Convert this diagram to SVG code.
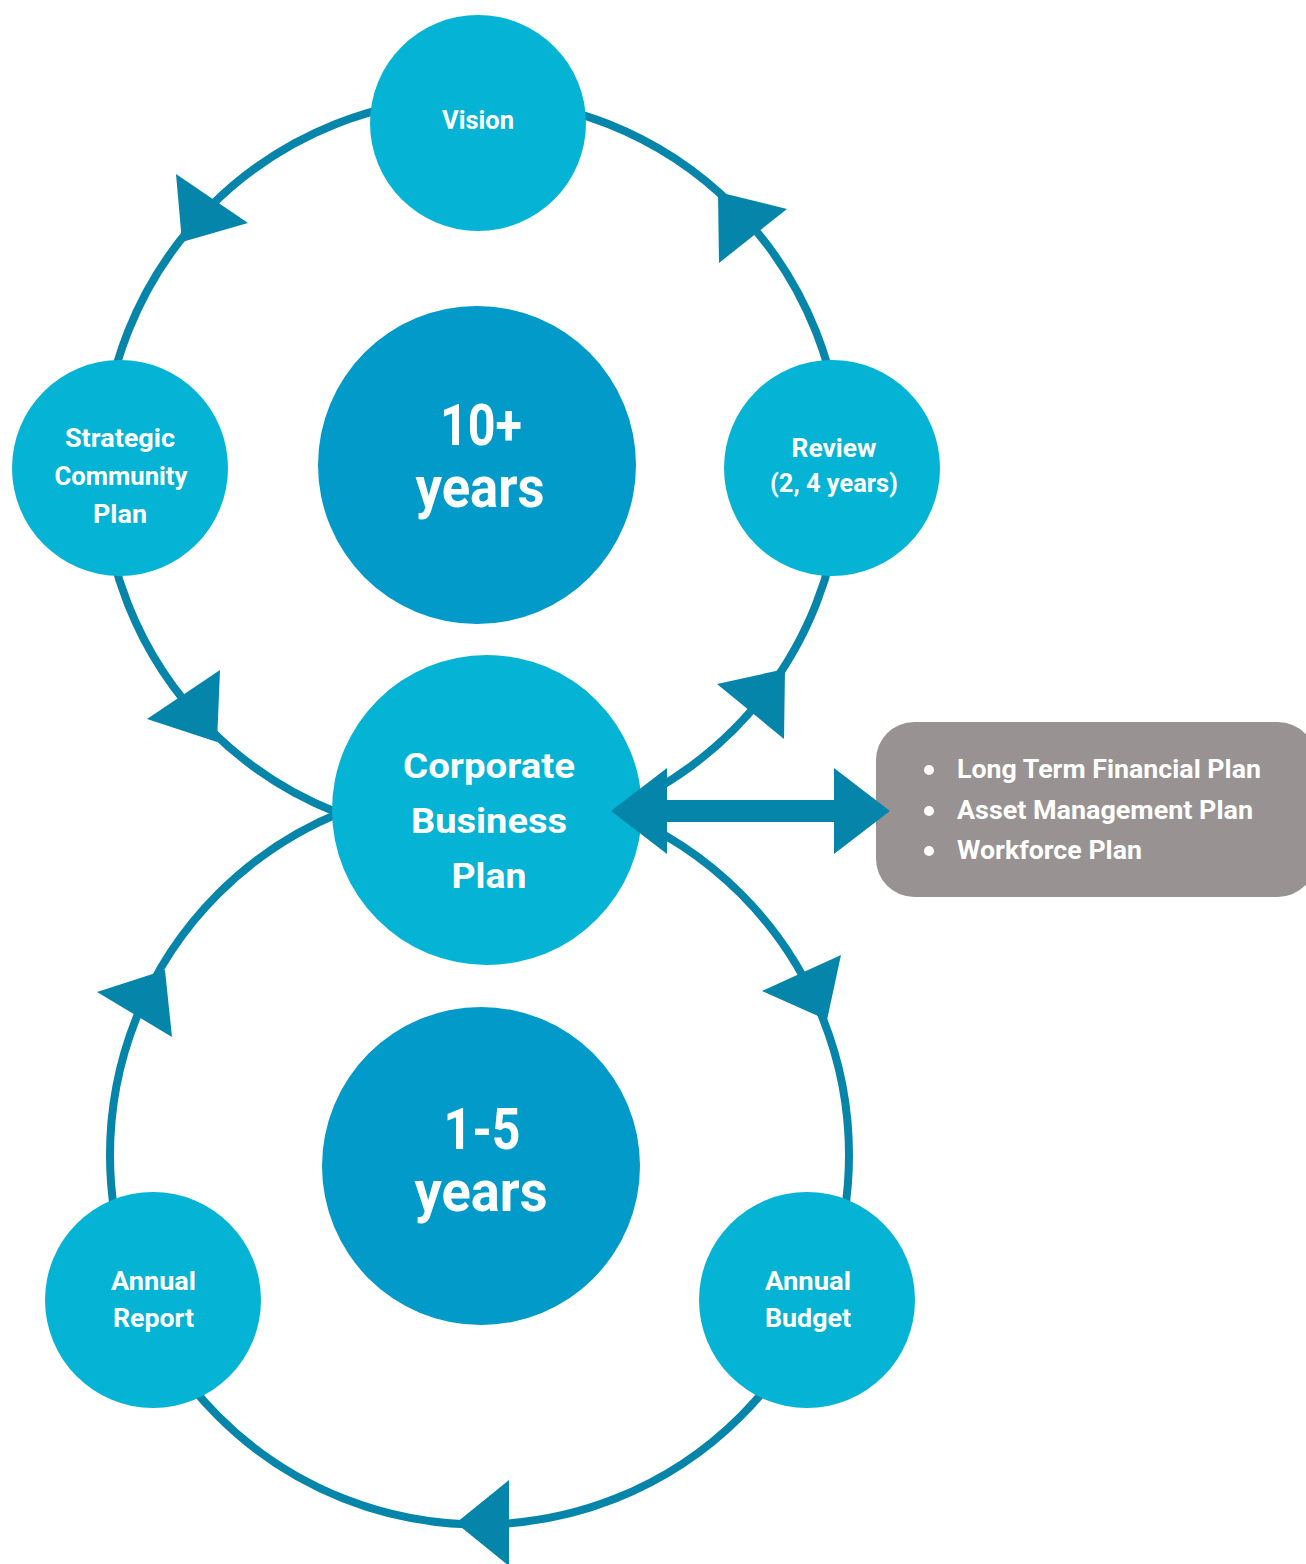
<svg xmlns="http://www.w3.org/2000/svg" width="1306" height="1564" viewBox="0 0 1306 1564">
<style>
.ring{fill:none;stroke:#0685AA;stroke-width:8}
.ah{fill:#0685AA}
.node{fill:#05B4D5}
.big{fill:#029AC9}
.box{fill:#989392}
.t{font-family:Roboto,"Liberation Sans",sans-serif;font-weight:700;fill:#fff;text-anchor:middle}
.s{font-size:25px}
.m{font-size:35px}
.l{font-size:58px}
.b{font-family:Roboto,"Liberation Sans",sans-serif;font-weight:700;fill:#fff;font-size:25px}
</style>
<rect width="1306" height="1564" fill="#fff"/>
<g id="connectors">
  <circle class="ring" cx="472" cy="468" r="370"/>
  <circle class="ring" cx="479.5" cy="1155" r="369.5"/>
  <polygon class="ah" points="176,174 248,223 182,242"/>
  <polygon class="ah" points="718,192 787,209 719,263"/>
  <polygon class="ah" points="220,670 147,719 217,742"/>
  <polygon class="ah" points="717,684 785,669 784,739"/>
  <polygon class="ah" points="97,992 165,970 172,1037"/>
  <polygon class="ah" points="841,955 762,991 827,1020"/>
  <polygon class="ah" points="509,1480 456,1523 509,1566"/>
</g>
<g id="vision">
  <circle class="node" cx="478" cy="123" r="108"/>
  <text class="t s" x="478" y="129" textLength="72" lengthAdjust="spacingAndGlyphs">Vision</text>
</g>
<g id="scp">
  <circle class="node" cx="120" cy="468" r="108"/>
  <text class="t s" x="120" y="447" textLength="110" lengthAdjust="spacingAndGlyphs">Strategic</text>
  <text class="t s" x="121" y="485" textLength="133" lengthAdjust="spacingAndGlyphs">Community</text>
  <text class="t s" x="120" y="523" textLength="54" lengthAdjust="spacingAndGlyphs">Plan</text>
</g>
<g id="review">
  <circle class="node" cx="832" cy="468" r="108"/>
  <text class="t s" x="834" y="457" textLength="85" lengthAdjust="spacingAndGlyphs">Review</text>
  <text class="t s" x="834" y="492" textLength="128" lengthAdjust="spacingAndGlyphs">(2, 4 years)</text>
</g>
<g id="ten-years">
  <circle class="big" cx="477" cy="465" r="159"/>
  <text class="t l" x="481" y="445" textLength="82" lengthAdjust="spacingAndGlyphs">10+</text>
  <text class="t l" x="480" y="507" textLength="129" lengthAdjust="spacingAndGlyphs">years</text>
</g>
<g id="cbp">
  <circle class="node" cx="487" cy="810" r="155"/>
  <text class="t m" x="489" y="778" textLength="172" lengthAdjust="spacingAndGlyphs">Corporate</text>
  <text class="t m" x="489" y="833" textLength="156" lengthAdjust="spacingAndGlyphs">Business</text>
  <text class="t m" x="489" y="888" textLength="75" lengthAdjust="spacingAndGlyphs">Plan</text>
</g>
<g id="five-years">
  <circle class="big" cx="481" cy="1166" r="159"/>
  <text class="t l" x="482" y="1149" textLength="77" lengthAdjust="spacingAndGlyphs">1-5</text>
  <text class="t l" x="481" y="1211" textLength="133" lengthAdjust="spacingAndGlyphs">years</text>
</g>
<g id="annual-report">
  <circle class="node" cx="153" cy="1300" r="108"/>
  <text class="t s" x="153.5" y="1290" textLength="85" lengthAdjust="spacingAndGlyphs">Annual</text>
  <text class="t s" x="153.5" y="1327" textLength="81" lengthAdjust="spacingAndGlyphs">Report</text>
</g>
<g id="annual-budget">
  <circle class="node" cx="807" cy="1300" r="108"/>
  <text class="t s" x="808" y="1290" textLength="86" lengthAdjust="spacingAndGlyphs">Annual</text>
  <text class="t s" x="808" y="1327" textLength="86" lengthAdjust="spacingAndGlyphs">Budget</text>
</g>
<g id="plans">
  <rect class="box" x="876" y="722" width="440" height="175" rx="38"/>
  <circle cx="929" cy="770" r="5" fill="#fff"/>
  <circle cx="929" cy="811" r="5" fill="#fff"/>
  <circle cx="929" cy="851" r="5" fill="#fff"/>
  <text class="b" x="957" y="778" textLength="304" lengthAdjust="spacingAndGlyphs">Long Term Financial Plan</text>
  <text class="b" x="957" y="819" textLength="296" lengthAdjust="spacingAndGlyphs">Asset Management  Plan</text>
  <text class="b" x="957" y="859" textLength="185" lengthAdjust="spacingAndGlyphs">Workforce Plan</text>
</g>
<g id="connector-link">
  <polygon class="ah" points="611,811 667,768 667,800 834,800 834,768 890,811 834,854 834,822 667,822 667,854"/>
</g>
</svg>
